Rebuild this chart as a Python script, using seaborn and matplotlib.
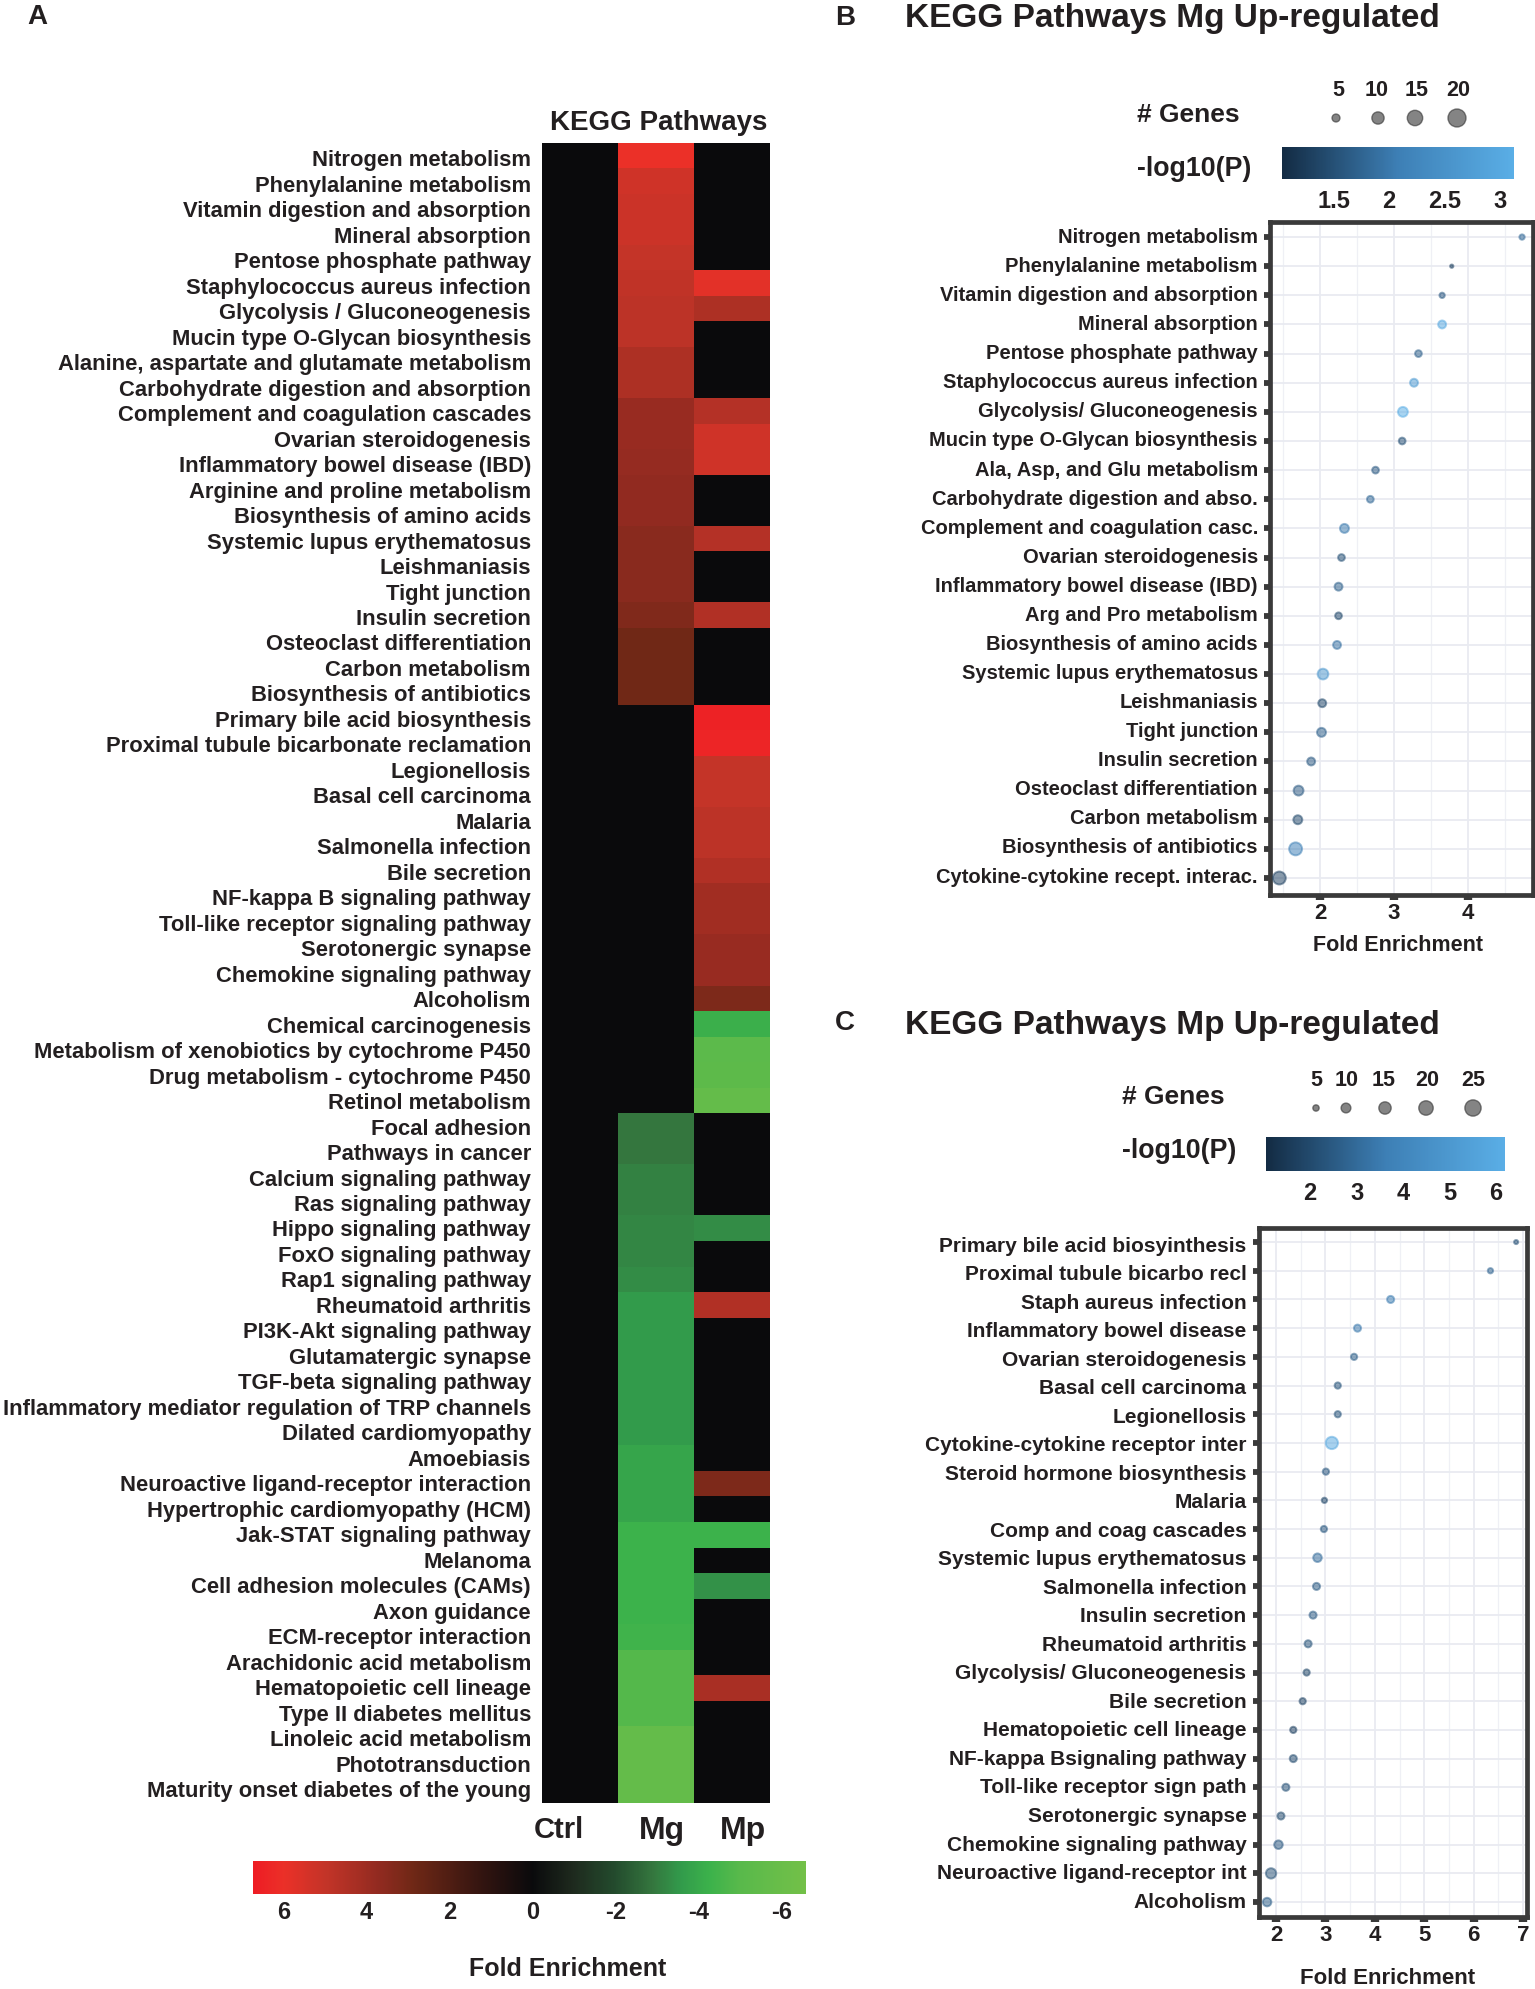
import numpy as np
import pandas as pd
import matplotlib
matplotlib.use("Agg")
import matplotlib.pyplot as plt
from matplotlib.colors import LinearSegmentedColormap, Normalize
from matplotlib.cm import ScalarMappable
from matplotlib.ticker import MultipleLocator
from matplotlib.transforms import ScaledTranslation
import seaborn as sns

# ---------- Panel A data ----------
pathways_a = [
    "Nitrogen metabolism", "Phenylalanine metabolism", "Vitamin digestion and absorption", "Mineral absorption",
    "Pentose phosphate pathway", "Staphylococcus aureus infection", "Glycolysis / Gluconeogenesis",
    "Mucin type O-Glycan biosynthesis", "Alanine, aspartate and glutamate metabolism",
    "Carbohydrate digestion and absorption", "Complement and coagulation cascades", "Ovarian steroidogenesis",
    "Inflammatory bowel disease (IBD)", "Arginine and proline metabolism", "Biosynthesis of amino acids",
    "Systemic lupus erythematosus", "Leishmaniasis", "Tight junction", "Insulin secretion",
    "Osteoclast differentiation", "Carbon metabolism", "Biosynthesis of antibiotics",
    "Primary bile acid biosynthesis", "Proximal tubule bicarbonate reclamation", "Legionellosis",
    "Basal cell carcinoma", "Malaria", "Salmonella infection", "Bile secretion", "NF-kappa B signaling pathway",
    "Toll-like receptor signaling pathway", "Serotonergic synapse", "Chemokine signaling pathway", "Alcoholism",
    "Chemical carcinogenesis", "Metabolism of xenobiotics by cytochrome P450", "Drug metabolism - cytochrome P450",
    "Retinol metabolism", "Focal adhesion", "Pathways in cancer", "Calcium signaling pathway", "Ras signaling pathway",
    "Hippo signaling pathway", "FoxO signaling pathway", "Rap1 signaling pathway", "Rheumatoid arthritis",
    "PI3K-Akt signaling pathway", "Glutamatergic synapse", "TGF-beta signaling pathway",
    "Inflammatory mediator regulation of TRP channels", "Dilated cardiomyopathy", "Amoebiasis",
    "Neuroactive ligand-receptor interaction", "Hypertrophic cardiomyopathy (HCM)", "Jak-STAT signaling pathway",
    "Melanoma", "Cell adhesion molecules (CAMs)", "Axon guidance", "ECM-receptor interaction",
    "Arachidonic acid metabolism", "Hematopoietic cell lineage", "Type II diabetes mellitus",
    "Linoleic acid metabolism", "Phototransduction", "Maturity onset diabetes of the young",
]
ctrl_vals = [0] * 65
mg_vals = [6.0, 5.3, 5.2, 5.2, 5.0, 4.9, 4.8, 4.8, 4.4, 4.4, 3.9, 3.9, 3.8, 3.7, 3.7, 3.5, 3.5, 3.5, 3.3, 2.9, 2.9, 2.9,
           0, 0, 0, 0, 0, 0, 0, 0, 0, 0, 0, 0, 0, 0, 0, 0,
           -2.9, -2.9, -3.1, -3.1, -3.2, -3.2, -3.3, -3.6, -3.6, -3.6, -3.6, -3.6, -3.6, -3.9, -3.9, -3.9,
           -4.3, -4.3, -4.3, -4.3, -4.4, -4.9, -4.9, -4.9, -5.7, -5.7, -5.7]
mp_vals = [0, 0, 0, 0, 0, 5.8, 4.4, 0, 0, 0, 4.6, 5.3, 5.3, 0, 0, 4.6, 0, 0, 4.5, 0, 0, 0,
           6.5, 6.4, 5.0, 5.0, 4.8, 4.8, 4.5, 4.1, 4.1, 3.9, 3.9, 3.2,
           -4.2, -5.2, -5.3, -5.7,
           0, 0, 0, 0, -3.3, 0, 0, 4.5, 0, 0, 0, 0, 0, 0, 3.2, 0, -4.3, 0, -3.4, 0, 0, 0, 4.3, 0, 0, 0, 0]
columns_a = ["Ctrl", "Mg", "Mp"]
cbar_a_ticks = [6, 4, 2, 0, -2, -4, -6]

# ---------- Panel B data ----------
path_b = ["Nitrogen metabolism", "Phenylalanine metabolism", "Vitamin digestion and absorption", "Mineral absorption",
          "Pentose phosphate pathway", "Staphylococcus aureus infection", "Glycolysis/ Gluconeogenesis",
          "Mucin type O-Glycan biosynthesis", "Ala, Asp, and Glu metabolism", "Carbohydrate digestion and abso.",
          "Complement and coagulation casc.", "Ovarian steroidogenesis", "Inflammatory bowel disease (IBD)",
          "Arg and Pro metabolism", "Biosynthesis of amino acids", "Systemic lupus erythematosus", "Leishmaniasis",
          "Tight junction", "Insulin secretion", "Osteoclast differentiation", "Carbon metabolism",
          "Biosynthesis of antibiotics", "Cytokine-cytokine recept. interac."]
fold_b = [4.73, 3.78, 3.65, 3.65, 3.33, 3.27, 3.12, 3.11, 2.75, 2.68, 2.33, 2.29, 2.25, 2.25, 2.23, 2.04, 2.03, 2.02,
          1.88, 1.71, 1.70, 1.67, 1.45]
genes_b = [3, 2, 3, 5, 4, 5, 7, 4, 4, 4, 6, 4, 5, 4, 5, 8, 5, 6, 5, 7, 6, 11, 11]
logp_b = [1.8, 1.3, 1.6, 3.0, 1.7, 2.7, 3.1, 1.5, 1.6, 1.8, 2.0, 1.5, 1.7, 1.4, 1.9, 2.6, 1.4, 1.7, 1.6, 1.6, 1.4, 2.1, 1.3]
legend_genes_b = [5, 10, 15, 20]
cbar_b_ticks = [1.5, 2, 2.5, 3]
xticks_b = [2, 3, 4]

# ---------- Panel C data ----------
path_c = ["Primary bile acid biosyinthesis", "Proximal tubule bicarbo recl", "Staph aureus infection",
          "Inflammatory bowel disease", "Ovarian steroidogenesis", "Basal cell carcinoma", "Legionellosis",
          "Cytokine-cytokine receptor inter", "Steroid hormone biosynthesis", "Malaria", "Comp and coag cascades",
          "Systemic lupus erythematosus", "Salmonella infection", "Insulin secretion", "Rheumatoid arthritis",
          "Glycolysis/ Gluconeogenesis", "Bile secretion", "Hematopoietic cell lineage", "NF-kappa Bsignaling pathway",
          "Toll-like receptor sign path", "Serotonergic synapse", "Chemokine signaling pathway",
          "Neuroactive ligand-receptor int", "Alcoholism"]
fold_c = [6.86, 6.34, 4.32, 3.65, 3.58, 3.25, 3.25, 3.13, 3.01, 2.98, 2.97, 2.84, 2.82, 2.75, 2.65, 2.62, 2.54, 2.35,
          2.35, 2.2, 2.1, 2.05, 1.9, 1.82]
genes_c = [3, 4, 6, 6, 5, 5, 5, 15, 5, 4, 5, 8, 6, 6, 6, 5, 5, 5, 6, 6, 6, 8, 11, 8]
logp_c = [2.2, 2.8, 3.5, 3.4, 2.6, 2.3, 2.3, 5.8, 2.4, 1.9, 2.4, 3.0, 2.5, 2.5, 2.3, 1.9, 1.8, 1.7, 2.0, 2.2, 2.0, 2.4, 2.2, 2.6]
legend_genes_c = [5, 10, 15, 20, 25]
cbar_c_ticks = [2, 3, 4, 5, 6]
xticks_c = [2, 3, 4, 5, 6, 7]

# ---------- Setup ----------
W, H = 1535, 1989
sns.set_theme(style="white")
plt.rcParams["font.family"] = ["Liberation Sans", "DejaVu Sans"]
plt.rcParams["font.weight"] = "bold"
INK = "#231f20"
FRAME = "#3a3a3a"
fig = plt.figure(figsize=(W / 100, H / 100), dpi=100, facecolor="white")


def axpx(x0, y0, x1, y1):
    return fig.add_axes([x0 / W, 1 - y1 / H, (x1 - x0) / W, (y1 - y0) / H])


def txt(x, y, s, size, ha="center", va="center", **kw):
    return fig.text(x / W, 1 - y / H, s, fontsize=size, ha=ha, va=va, color=INK, fontweight="bold", **kw)


# ---------- Panel A ----------
vmin_a, vmax_a = -6.6, 6.74
stops = [(-6.6, (115, 192, 72)), (-5, (88, 185, 75)), (-4.3, (60, 178, 75)), (-3.6, (50, 155, 75)),
         (-2.9, (52, 118, 62)), (-2, (35, 75, 45)), (-1, (30, 42, 30)), (0, (10, 10, 12)), (1.2, (50, 20, 16)),
         (2.9, (112, 40, 22)), (3.7, (145, 42, 32)), (5.0, (195, 52, 40)), (6.0, (235, 48, 40)), (6.74, (238, 28, 36))]
cmap_a = LinearSegmentedColormap.from_list(
    "fold", [((v - vmin_a) / (vmax_a - vmin_a), tuple(c / 255 for c in col)) for v, col in stops], N=512)

df_a = pd.DataFrame({"Ctrl": ctrl_vals, "Mg": mg_vals, "Mp": mp_vals}, index=pathways_a)[columns_a]
ax_a = axpx(541.5, 142.5, 770, 1803)
sns.heatmap(df_a, ax=ax_a, cmap=cmap_a, vmin=vmin_a, vmax=vmax_a, cbar=False, xticklabels=False, yticklabels=True)
ax_a.set_ylabel("")
ax_a.set_yticks(np.linspace(0.72, 64.55, 65))
ax_a.set_yticklabels(pathways_a)
ax_a.tick_params(axis="y", length=0, pad=7.6, labelsize=15.8, labelcolor=INK, rotation=0)
for lab in ax_a.get_yticklabels():
    lab.set_fontweight("bold")
    lab.set_rotation(0)

txt(659, 122.5, "KEGG Pathways", 20)
for cx, lab, fs in zip([559, 662, 743], columns_a, [21, 23, 23]):
    txt(cx, 1830.5, lab, fs)

cax_a = axpx(253, 1861, 806, 1894)
cb_a = fig.colorbar(ScalarMappable(Normalize(vmin_a, vmax_a), cmap_a), cax=cax_a, orientation="horizontal")
cb_a.outline.set_visible(False)
cax_a.invert_xaxis()
cb_a.set_ticks(cbar_a_ticks)
cb_a.set_ticklabels([str(t) for t in cbar_a_ticks])
cax_a.tick_params(axis="x", length=0, pad=5, labelsize=17, labelcolor=INK)
txt(568, 1968.5, "Fold Enrichment", 18)

# ---------- Panels B and C ----------
cmap_p = LinearSegmentedColormap.from_list("ggblue", ["#132B43", "#3d7fb5", "#5aaee6"])


def bubble_panel(rect, names, fold, genes, logp, xlim, ylim, xticks, sizes, size_norm, p_norm, cbar_rect, cbar_ticks,
                 leg_rect, leg_x, leg_genes, label_size, nudge):
    ax = axpx(*rect)
    df = pd.DataFrame({"path": names, "fold": fold, "genes": genes, "logp": logp})
    sns.scatterplot(data=df, x="fold", y="path", size="genes", sizes=sizes, size_norm=size_norm, hue="logp",
                    hue_norm=p_norm, palette=cmap_p, legend=False, alpha=0.52, edgecolor="face", linewidth=1.4, ax=ax,
                    zorder=3)
    ax.set_xlim(*xlim)
    ax.set_ylim(*ylim)
    ax.set_xlabel("")
    ax.set_ylabel("")
    ax.set_xticks(xticks)
    ax.set_xticklabels([str(t) for t in xticks])
    ax.xaxis.set_minor_locator(MultipleLocator(0.5))
    ax.set_yticks(range(len(names)))
    ax.set_yticklabels(names)
    ax.set_axisbelow(True)
    ax.grid(True, which="major", color="#e9ebf1", lw=1.3)
    ax.grid(True, which="minor", axis="x", color="#eff0f5", lw=0.9)
    for s in ax.spines.values():
        s.set_visible(True)
        s.set_color(FRAME)
        s.set_linewidth(3.4)
    ax.tick_params(axis="y", which="major", left=True, length=4, width=4.2, color=FRAME, pad=4.7,
                   labelsize=label_size, labelcolor=INK)
    ax.tick_params(axis="x", which="major", bottom=True, length=3.5, width=6, color=FRAME, pad=2.5,
                   labelsize=16, labelcolor=INK)
    ax.tick_params(axis="x", which="minor", bottom=False)
    n = len(names)
    for i, lab in enumerate(ax.get_yticklabels()):
        up = nudge[0] + (nudge[1] - nudge[0]) * i / (n - 1)
        lab.set_transform(lab.get_transform() + ScaledTranslation(0, up * 0.72 / 72, fig.dpi_scale_trans))

    cax = axpx(*cbar_rect)
    cb = fig.colorbar(ScalarMappable(p_norm, cmap_p), cax=cax, orientation="horizontal")
    cb.outline.set_visible(False)
    cb.set_ticks(cbar_ticks)
    cb.set_ticklabels([str(t) for t in cbar_ticks])
    cax.xaxis.set_ticks_position("both")
    cax.tick_params(axis="x", which="major", direction="in", length=4.5, width=0.9, color="white", pad=8,
                    labelsize=17, labelcolor=INK, labeltop=False, labelbottom=True)
    cax.tick_params(axis="x", which="minor", length=0)

    lax = axpx(*leg_rect)
    ldf = pd.DataFrame({"x": leg_x, "y": [0.5] * len(leg_x), "genes": leg_genes})
    sns.scatterplot(data=ldf, x="x", y="y", size="genes", sizes=sizes, size_norm=size_norm, color="#333333",
                    legend=False, alpha=0.6, edgecolor="face", linewidth=1.0, ax=lax)
    lax.set_xlim(leg_rect[0], leg_rect[2])
    lax.set_ylim(0, 1)
    lax.axis("off")
    return ax


# Panel B
norm_b = Normalize(1.036, 3.126)
bubble_panel((1270, 222.5, 1533, 894.5), path_b, fold_b, genes_b, logp_b, (1.324, 4.878), (22.566, -0.5), xticks_b,
             (5.6, 168), (2, 20), norm_b, (1282, 147, 1514, 179), cbar_b_ticks, (1300, 100, 1500, 136),
             [1336, 1378, 1415, 1457], legend_genes_b, 14.5, (1.6, 3.0))
txt(845, 18, "B", 20)
txt(905, 18, "KEGG Pathways Mg Up-regulated", 24, ha="left")
for cx, g in zip([1338, 1377, 1417, 1458], legend_genes_b):
    txt(cx, 90, str(g), 15.5)
txt(1188, 114.5, "# Genes", 19)
txt(1194, 168.5, "-log10(P)", 19.3)
txt(1398, 945.5, "Fold Enrichment", 15.5)

# Panel C
norm_c = Normalize(1.05, 6.19)
bubble_panel((1258.5, 1228, 1527, 1917), path_c, fold_c, genes_c, logp_c, (1.646, 7.08), (23.52, -0.49), xticks_c,
             (3, 137), (2, 25), norm_c, (1266, 1137, 1505, 1171), cbar_c_ticks, (1290, 1090, 1500, 1126),
             [1316, 1346, 1385, 1426, 1473], legend_genes_c, 15, (-2, 2))
txt(845, 1023.5, "C", 20)
txt(905, 1025.5, "KEGG Pathways Mp Up-regulated", 24, ha="left")
for cx, g in zip([1316, 1347, 1384, 1427, 1473], legend_genes_c):
    txt(cx, 1080, str(g), 15.5)
txt(1173, 1097.5, "# Genes", 19)
txt(1179, 1151.5, "-log10(P)", 19.3)
txt(1388, 1978, "Fold Enrichment", 16)

txt(37, 16.5, "A", 20)

fig.savefig("out.png", dpi=100, facecolor="white")
